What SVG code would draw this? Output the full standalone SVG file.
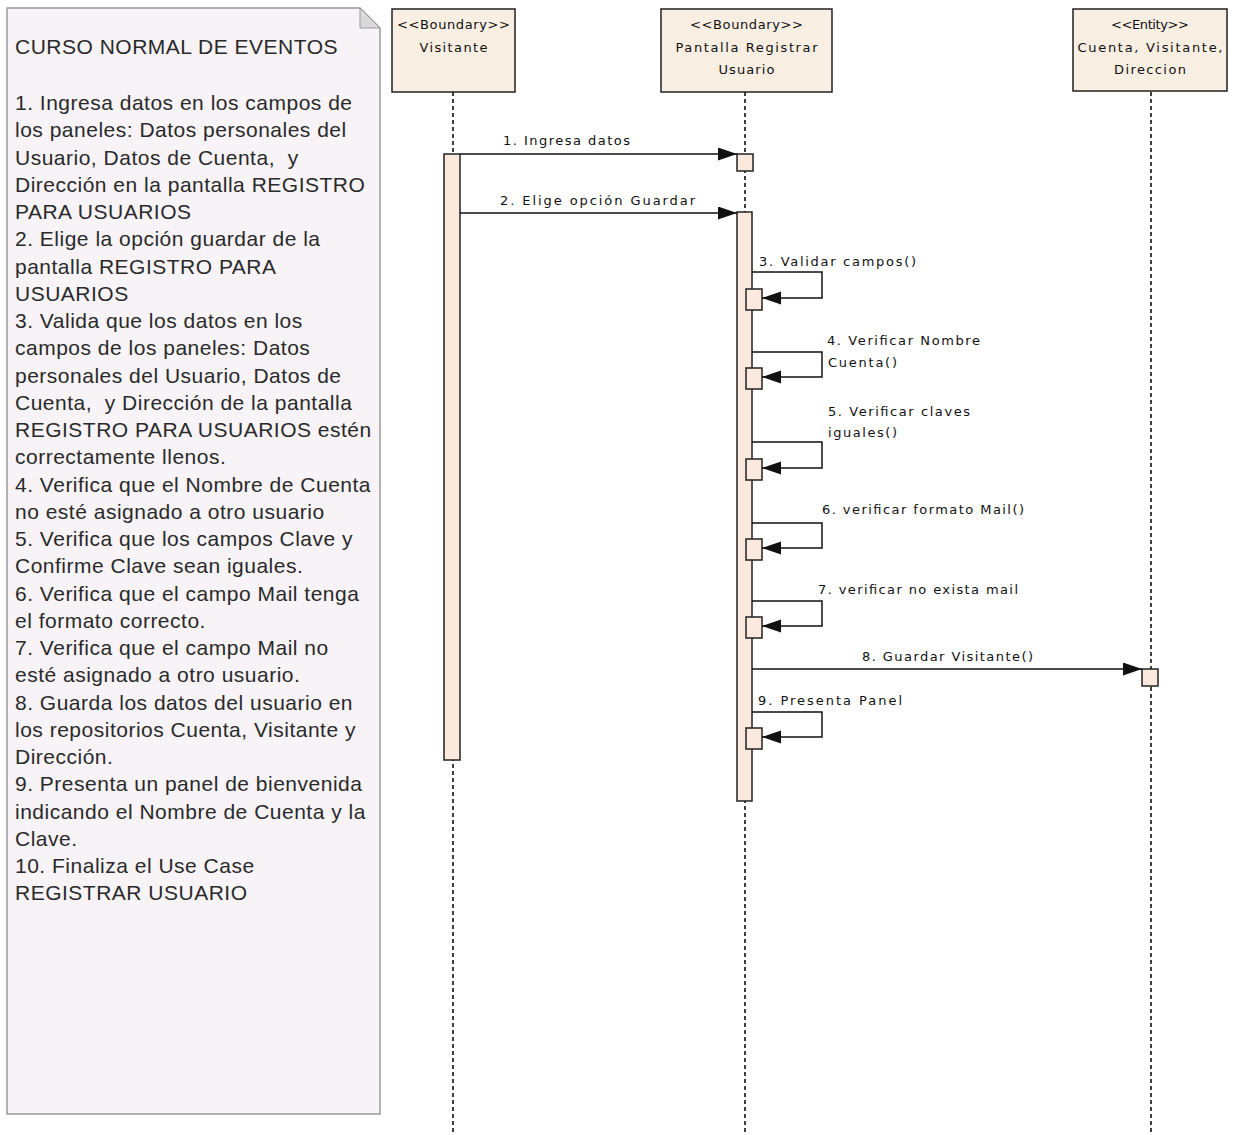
<svg xmlns="http://www.w3.org/2000/svg" width="1235" height="1135" viewBox="0 0 1235 1135">
  <style>
    .note { fill: #f7f3f7; stroke: #9a9a9a; stroke-width: 1.5; }
    .fold { fill: #d9d9d9; stroke: #9a9a9a; stroke-width: 1; }
    .notetext { font-family: "Liberation Sans", Arial, sans-serif; font-size: 21px; letter-spacing: 0.5px; fill: #2a2a2a; }
    .head { fill: #f8eee2; stroke: #222; stroke-width: 1.5; }
    .act { fill: #fae9dc; stroke: #222; stroke-width: 1.5; }
    .life { stroke: #111; stroke-width: 1.6; stroke-dasharray: 4 3; fill: none; }
    .lbl { font-family: "DejaVu Sans", Verdana, sans-serif; font-size: 13px; fill: #111; }
    .msg { stroke: #111; stroke-width: 1.5; fill: none; marker-end: url(#arrow); }
  </style>
  <defs>
    <marker id="arrow" markerUnits="userSpaceOnUse" markerWidth="20" markerHeight="14" refX="19" refY="6.5" orient="auto">
      <path d="M0,0 L19,6.5 L0,13 Z" fill="#111"/>
    </marker>
  </defs>

  <rect width="1235" height="1135" fill="#ffffff"/>

  <!-- Note: normal course of events -->
  <g id="note-curso-normal">
    <path class="note" d="M7,8 H360 L380,28 V1114 H7 Z"/>
    <path class="fold" d="M360,8 V28 H380 Z"/>
    <text class="notetext" x="15" y="54">CURSO NORMAL DE EVENTOS</text>
    <text class="notetext" x="15" y="110">1. Ingresa datos en los campos de</text>
    <text class="notetext" x="15" y="137.25">los paneles: Datos personales del</text>
    <text class="notetext" x="15" y="164.5" xml:space="preserve">Usuario, Datos de Cuenta,  y</text>
    <text class="notetext" x="15" y="191.75">Dirección en la pantalla REGISTRO</text>
    <text class="notetext" x="15" y="219">PARA USUARIOS</text>
    <text class="notetext" x="15" y="246.25">2. Elige la opción guardar de la</text>
    <text class="notetext" x="15" y="273.5">pantalla REGISTRO PARA</text>
    <text class="notetext" x="15" y="300.75">USUARIOS</text>
    <text class="notetext" x="15" y="328">3. Valida que los datos en los</text>
    <text class="notetext" x="15" y="355.25">campos de los paneles: Datos</text>
    <text class="notetext" x="15" y="382.5">personales del Usuario, Datos de</text>
    <text class="notetext" x="15" y="409.75" xml:space="preserve">Cuenta,  y Dirección de la pantalla</text>
    <text class="notetext" x="15" y="437">REGISTRO PARA USUARIOS estén</text>
    <text class="notetext" x="15" y="464.25">correctamente llenos.</text>
    <text class="notetext" x="15" y="491.5">4. Verifica que el Nombre de Cuenta</text>
    <text class="notetext" x="15" y="518.75">no esté asignado a otro usuario</text>
    <text class="notetext" x="15" y="546">5. Verifica que los campos Clave y</text>
    <text class="notetext" x="15" y="573.25">Confirme Clave sean iguales.</text>
    <text class="notetext" x="15" y="600.5">6. Verifica que el campo Mail tenga</text>
    <text class="notetext" x="15" y="627.75">el formato correcto.</text>
    <text class="notetext" x="15" y="655">7. Verifica que el campo Mail no</text>
    <text class="notetext" x="15" y="682.25">esté asignado a otro usuario.</text>
    <text class="notetext" x="15" y="709.5">8. Guarda los datos del usuario en</text>
    <text class="notetext" x="15" y="736.75">los repositorios Cuenta, Visitante y</text>
    <text class="notetext" x="15" y="764">Dirección.</text>
    <text class="notetext" x="15" y="791.25">9. Presenta un panel de bienvenida</text>
    <text class="notetext" x="15" y="818.5">indicando el Nombre de Cuenta y la</text>
    <text class="notetext" x="15" y="845.75">Clave.</text>
    <text class="notetext" x="15" y="873">10. Finaliza el Use Case</text>
    <text class="notetext" x="15" y="900.25">REGISTRAR USUARIO</text>
  </g>

  <!-- Lifeline: Visitante -->
  <g id="visitante">
    <line class="life" x1="453" y1="92" x2="453" y2="1135"/>
    <rect class="head" x="392" y="9" width="123" height="83"/>
    <text class="lbl" x="453.5" y="29" text-anchor="middle" textLength="113" lengthAdjust="spacing">&lt;&lt;Boundary&gt;&gt;</text>
    <text class="lbl" x="453.5" y="52" text-anchor="middle" textLength="68" lengthAdjust="spacing">Visitante</text>
    <rect class="act" x="444" y="154" width="16" height="606"/>
  </g>

  <!-- Lifeline: Pantalla Registrar Usuario -->
  <g id="pantalla-registrar-usuario">
    <line class="life" x1="745" y1="92" x2="745" y2="1135"/>
    <rect class="head" x="661" y="9" width="171" height="83"/>
    <text class="lbl" x="746.5" y="29" text-anchor="middle" textLength="113" lengthAdjust="spacing">&lt;&lt;Boundary&gt;&gt;</text>
    <text class="lbl" x="746.5" y="52" text-anchor="middle" textLength="142" lengthAdjust="spacing">Pantalla Registrar</text>
    <text class="lbl" x="746.5" y="74" text-anchor="middle" textLength="56" lengthAdjust="spacing">Usuario</text>
    <rect class="act" x="737" y="154" width="16" height="17"/>
    <rect class="act" x="737" y="212" width="15" height="589"/>
    <rect class="act" x="746" y="289" width="16" height="21"/>
    <rect class="act" x="746" y="368" width="16" height="21"/>
    <rect class="act" x="746" y="459" width="16" height="21"/>
    <rect class="act" x="746" y="539" width="16" height="21"/>
    <rect class="act" x="746" y="617" width="16" height="21"/>
    <rect class="act" x="746" y="728" width="16" height="21"/>
  </g>

  <!-- Lifeline: Cuenta, Visitante, Direccion -->
  <g id="cuenta-visitante-direccion">
    <line class="life" x1="1151" y1="92" x2="1151" y2="1135"/>
    <rect class="head" x="1073" y="9" width="154" height="82"/>
    <text class="lbl" x="1150" y="29" text-anchor="middle" textLength="78" lengthAdjust="spacing">&lt;&lt;Entity&gt;&gt;</text>
    <text class="lbl" x="1150" y="52" text-anchor="middle" textLength="145" lengthAdjust="spacing">Cuenta, Visitante,</text>
    <text class="lbl" x="1150" y="74" text-anchor="middle" textLength="72" lengthAdjust="spacing">Direccion</text>
    <rect class="act" x="1142" y="669" width="16" height="17"/>
  </g>

  <!-- Messages -->
  <g id="connectors">
    <line class="msg" x1="460" y1="154" x2="737" y2="154"/>
    <text class="lbl" x="503" y="145" textLength="127" lengthAdjust="spacing">1. Ingresa datos</text>

    <line class="msg" x1="460" y1="213" x2="737" y2="213"/>
    <text class="lbl" x="500" y="205" textLength="195" lengthAdjust="spacing">2. Elige opción Guardar</text>

    <path class="msg" d="M752,272 H822 V298 H762"/>
    <text class="lbl" x="759" y="266" textLength="157" lengthAdjust="spacing">3. Validar campos()</text>

    <path class="msg" d="M752,352 H822 V377 H762"/>
    <text class="lbl" x="827" y="345" textLength="153" lengthAdjust="spacing">4. Verificar Nombre</text>
    <text class="lbl" x="828" y="367" textLength="69" lengthAdjust="spacing">Cuenta()</text>

    <path class="msg" d="M752,442 H822 V468 H762"/>
    <text class="lbl" x="828" y="416" textLength="142" lengthAdjust="spacing">5. Verificar claves</text>
    <text class="lbl" x="828" y="437" textLength="69" lengthAdjust="spacing">iguales()</text>

    <path class="msg" d="M752,523 H822 V548 H762"/>
    <text class="lbl" x="822" y="514" textLength="202" lengthAdjust="spacing">6. verificar formato Mail()</text>

    <path class="msg" d="M752,601 H822 V626 H762"/>
    <text class="lbl" x="818" y="594" textLength="200" lengthAdjust="spacing">7. verificar no exista mail</text>

    <line class="msg" x1="752" y1="669" x2="1142" y2="669"/>
    <text class="lbl" x="862" y="661" textLength="171" lengthAdjust="spacing">8. Guardar Visitante()</text>

    <path class="msg" d="M752,712 H822 V737 H762"/>
    <text class="lbl" x="758" y="705" textLength="144" lengthAdjust="spacing">9. Presenta Panel</text>
  </g>
</svg>
